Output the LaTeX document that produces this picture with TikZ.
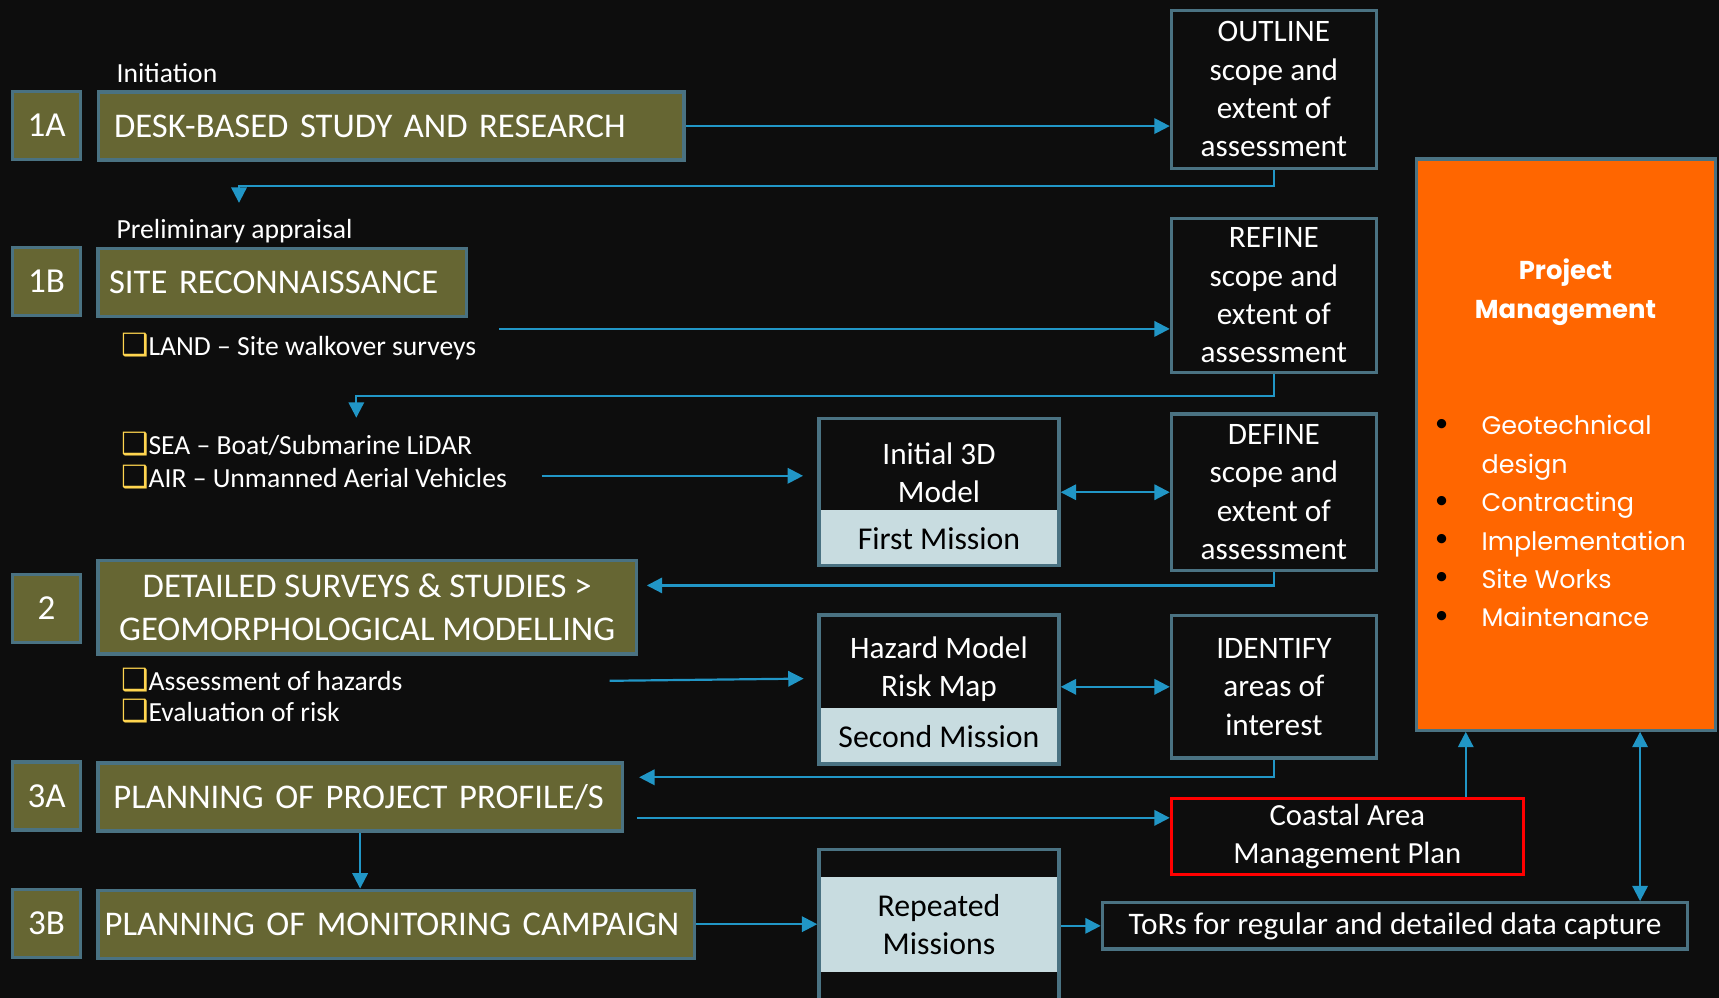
\documentclass[tikz,border=0pt]{standalone}
\usepackage{fontspec}
\setmainfont{Carlito}
\newfontfamily\pmfont{Poppins}
\newfontfamily\symfont{DejaVu Sans}
\usepackage{xcolor}
\usetikzlibrary{arrows.meta,positioning,fit}

\definecolor{bgblack}{HTML}{0D0D0D}
\definecolor{olive}{HTML}{666633}
\definecolor{edgeblue}{HTML}{4A7282}
\definecolor{linkblue}{HTML}{2196C6}
\definecolor{paleblue}{HTML}{C8DCE0}
\definecolor{pmorange}{HTML}{FF6600}
\definecolor{chkyellow}{HTML}{FFD54F}

\newcommand{\chk}{{\symfont\fontsize{14}{14}\selectfont\color{chkyellow}❑}}

\tikzset{
  numbox/.style={draw=edgeblue, line width=1.5pt, fill=olive, text=white,
    font=\fontsize{16}{19}\selectfont, minimum width=31pt, minimum height=31pt, inner sep=0pt},
  stagebox/.style={draw=edgeblue, line width=1.5pt, fill=olive, text=white,
    font=\fontsize{15.8}{19.5}\selectfont, align=left, minimum height=31pt, inner ysep=0pt},
  scopebox/.style={draw=edgeblue, line width=1.5pt, fill=bgblack, text=white,
    font=\fontsize{14.25}{17.5}\selectfont, align=center, minimum width=93.5pt, inner sep=0pt},
  smalltext/.style={text=white, font=\fontsize{12.6}{15}\selectfont, anchor=base west, inner sep=0pt, align=left},
  frame/.style={draw=edgeblue, line width=1.5pt, inner sep=0pt},
  mission/.style={fill=paleblue, text=black, font=\fontsize{14.5}{17.5}\selectfont,
    minimum width=110.5pt, inner sep=0pt, align=center},
  link/.style={draw=linkblue, line width=1pt, -{Triangle[length=7pt,width=7pt]}},
  twoway/.style={draw=linkblue, line width=1pt, {Triangle[length=7pt,width=7pt]}-{Triangle[length=7pt,width=7pt]}}
}

\begin{document}
\begin{tikzpicture}[x=0.5pt,y=-0.5pt]
  \useasboundingbox (0,0) rectangle (1568,910);
  \fill[bgblack] (0,0) rectangle (1568,910);

  % stage numbers
  \node[numbox] (n1A) at (42.5,114.5) {1A};
  \node[numbox] (n1B) at (42.5,256.5) {1B};
  \node[numbox] (n2) at (42.5,555) {2};
  \node[numbox] (n3A) at (42.5,726) {3A};
  \node[numbox] (n3B) at (42.5,842.5) {3B};

  % stages
  \node[smalltext] (initiation) at (106,75) {Initiation};
  \node[stagebox, inner xsep=7pt, text width=253pt] (desk) at (357,115) {\mbox{DESK-BASED STUDY AND RESEARCH}};
  \node[smalltext] (prelim) at (106,218) {Preliminary appraisal};
  \node[stagebox, inner xsep=5pt, text width=158pt] (recon) at (257.5,257.5) {\mbox{SITE RECONNAISSANCE}};
  \node[smalltext] (land) at (110,324) {\chk LAND – Site walkover surveys};
  \node[smalltext] (seaair) at (110,445) {\chk SEA – Boat/Submarine LiDAR\\\chk AIR – Unmanned Aerial Vehicles};
  \node[stagebox, align=center, minimum width=245.5pt, minimum height=42.5pt] (detailed) at (335,554)
    {DETAILED SURVEYS \& STUDIES >\\GEOMORPHOLOGICAL MODELLING};
  \node[smalltext, font=\fontsize{12.6}{14}\selectfont] (hazards) at (110,658) {\chk Assessment of hazards\\\chk Evaluation of risk};
  \node[stagebox, inner xsep=7pt, text width=225pt] (profile) at (328.5,727) {\mbox{PLANNING OF PROJECT PROFILE/S}};
  \node[stagebox, inner xsep=3pt, text width=266pt] (monitor) at (361.5,843) {\mbox{PLANNING OF MONITORING CAMPAIGN}};

  % scope boxes
  \node[scopebox, minimum height=72pt] (outline) at (1162,81.5) {OUTLINE\\scope and\\extent of\\assessment};
  \node[scopebox, minimum height=70pt] (refine) at (1162,269.5) {REFINE\\scope and\\extent of\\assessment};
  \node[scopebox, minimum height=71.5pt] (define) at (1162,449) {DEFINE\\scope and\\extent of\\assessment};
  \node[scopebox, minimum height=65pt] (identify) at (1162,626.5) {IDENTIFY\\areas of\\interest};

  % missions
  \node[mission, minimum height=26pt] (first) at (856.5,491) {First Mission};
  \node[scopebox, draw=none, fill=none] (model) at (856.5,431) {Initial 3D\\Model};
  \node[frame, fit={(747,382) (966,516)}] (m1box) {};
  \node[mission, minimum height=26pt] (second) at (856.5,672) {Second Mission};
  \node[scopebox, draw=none, fill=none] (hazmodel) at (856.5,610.5) {Hazard Model\\Risk Map};
  \node[frame, fit={(747,561) (966,697)}] (m2box) {};
  \node[mission, minimum height=43.5pt] (repeated) at (856.5,843.5) {Repeated\\Missions};
  \node[frame, fit={(747,775) (966,930)}] (rep) {};

  % outputs
  \node[draw=red, line width=1.5pt, text=white, font=\fontsize{14}{17}\selectfont, align=center,
    minimum width=160.5pt, minimum height=34.5pt, inner sep=0pt] (camp) at (1229,763) {Coastal Area\\Management Plan};
  \node[draw=edgeblue, line width=1.5pt, text=white, font=\fontsize{14.3}{17}\selectfont,
    minimum width=267pt, minimum height=21pt, inner sep=0pt] (tors) at (1272.5,844.5) {ToRs for regular and detailed data capture};
  \node[frame, fill=pmorange, fit={(1292,145) (1565,666)}] (pm) {};
  \node[text=white, font=\pmfont\bfseries\fontsize{11.8}{17.5}\selectfont, align=center] (pmtitle) at (1428,266.5) {Project\\Management};
  \node[text=white, font=\pmfont\fontsize{11.6}{17.5}\selectfont, align=left, anchor=west, inner sep=0pt] (pmlist) at (1351,475.5)
    {Geotechnical\\design\\Contracting\\Implementation\\Site Works\\Maintenance};
  \foreach \yy in {388,458,493,528,563}
    \node[text=black, font=\fontsize{12}{14}\selectfont] at (1315,\yy) {\textbullet};

  % connectors
  \coordinate (tipA) at (218,185);
  \coordinate (landout) at (455,300);
  \coordinate (tipB) at (325,381);
  \coordinate (airout) at (494,434);
  \coordinate (tipC) at (590,534);
  \coordinate (hazout) at (556,621);
  \coordinate (tipD) at (733,619);
  \coordinate (tipE) at (583,709);
  \coordinate (profout) at (581,746);

  \draw[link] (desk.east) -- (desk.east -| outline.west);
  \draw[link] (outline.south) -- ++(0,15) -| (tipA);
  \draw[link] (landout) -- (landout -| refine.west);
  \draw[link] (refine.south) -- ++(0,20) -| (tipB);
  \draw[link] (airout) -- ([xshift=-6.5pt]airout -| m1box.west);
  \draw[twoway] (m1box.east) -- (m1box.east -| define.west);
  \draw[link] (define.south) |- (tipC);
  \draw[link] (hazout) -- (tipD);
  \draw[twoway] (m2box.east |- identify.west) -- (identify.west);
  \draw[link] (identify.south) |- (tipE);
  \draw[link] (profout) -- (profout -| camp.west);
  \draw[link] ([xshift=-27pt]camp.north east) -- ([xshift=-27pt]camp.north east |- pm.south);
  \draw[link] (profile.south) -- (profile.south |- monitor.north);
  \draw[link] (monitor.east) -- (monitor.east -| rep.west);
  \draw[link] (rep.east |- tors.west) -- (tors.west);
  \draw[twoway] ([xshift=-22.5pt]tors.north east) -- ([xshift=-22.5pt]tors.north east |- pm.south);
\end{tikzpicture}
\end{document}
